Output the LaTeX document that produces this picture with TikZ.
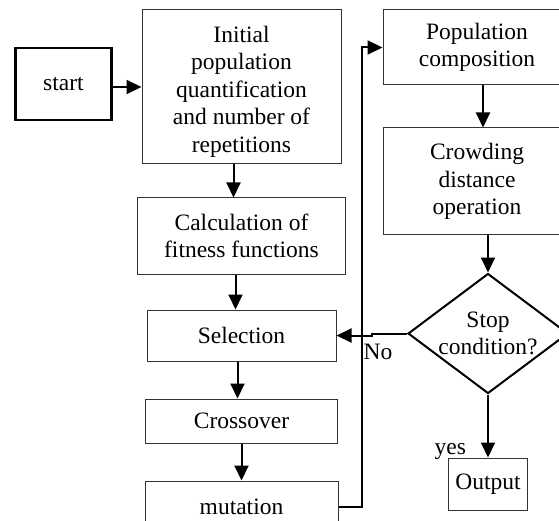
\documentclass[tikz,border=0pt]{standalone}
\usepackage{fontspec}
\setmainfont{Liberation Serif}
\usetikzlibrary{positioning}
\usetikzlibrary{arrows.meta}
\usetikzlibrary{shapes.geometric}

\begin{document}
\begin{tikzpicture}[->,>={Triangle[length=15pt,width=14pt]},x=1pt,y=-1pt,line width=2pt,
	block node/.style={rectangle,draw=black!80,line width=1pt,inner sep=0pt,align=center,font=\fontsize{23.5}{27.5}\selectfont},
	start node/.style={block node,draw=black,line width=2.2pt},
	decision node/.style={diamond,draw=black,line width=2pt,aspect=1.333,inner sep=0pt,align=center,font=\fontsize{23.5}{27.5}\selectfont},
	label node/.style={inner sep=0pt,font=\fontsize{23.5}{27.5}\selectfont}]

	\useasboundingbox (0,0) rectangle (559,521);
	\clip (0,0) rectangle (559,521);

	\node[block node,minimum width=199pt,minimum height=154pt] (init) at (241.5,87) {\rule{0pt}{26pt}Initial\\population\\quantification\\and number of\\repetitions};
	\node[start node,minimum width=96pt,minimum height=72pt] (start) [left=29pt of init,yshift=3pt] {start};
	\node[block node,minimum width=208pt,minimum height=76pt] (fit) [below=33pt of init] {Calculation of\\fitness functions};
	\node[block node,minimum width=189pt,minimum height=51pt] (sel) [below=35pt of fit] {Selection};
	\node[block node,minimum width=192pt,minimum height=44pt] (cross) [below=37pt of sel] {Crossover};
	\node[block node,minimum width=193pt,minimum height=52pt] (mut) [below=37pt of cross] {mutation};

	\node[block node,minimum width=188pt,minimum height=75pt] (pop) [right=41pt of init.north east,anchor=north west] {Population\\composition};
	\node[block node,minimum width=188pt,minimum height=107pt] (crowd) [below=42pt of pop] {Crowding\\distance\\operation};
	\node[decision node,minimum width=160pt,minimum height=120pt] (stop) [below=37pt of crowd,xshift=11pt] {Stop\\condition?};
	\node[block node,minimum width=79pt,minimum height=52pt] (out) [below=63pt of stop] {Output};

	\path
	(init.west -| start.east)	edge (init.west)
	([xshift=-8pt]init.south)	edge ([xshift=-8pt]init.south |- fit.north)
	([xshift=-6pt]fit.south)	edge ([xshift=-6pt]fit.south |- sel.north)
	([xshift=-4pt]sel.south)	edge ([xshift=-4pt]sel.south |- cross.north)
	(cross.south)			edge (cross.south |- mut.north)
	([xshift=6pt]pop.south)	edge ([xshift=6pt]pop.south |- crowd.north)
	(stop.north |- crowd.south)	edge (stop.north)
	(stop.south)			edge (out.north)
	;

	% loop back and the no branch
	\draw (mut.east) -- ++(23,0) |- (pop.west);
	\draw (stop.west) -- ++(-35,0) coordinate (jog) |- (sel.east);

	\node[label node,anchor=north] (no) [below=10pt of jog,xshift=6pt] {No};
	\node[label node,anchor=base east] (yes) at ([xshift=-21pt,yshift=3pt]out.north) {yes};
\end{tikzpicture}
\end{document}
